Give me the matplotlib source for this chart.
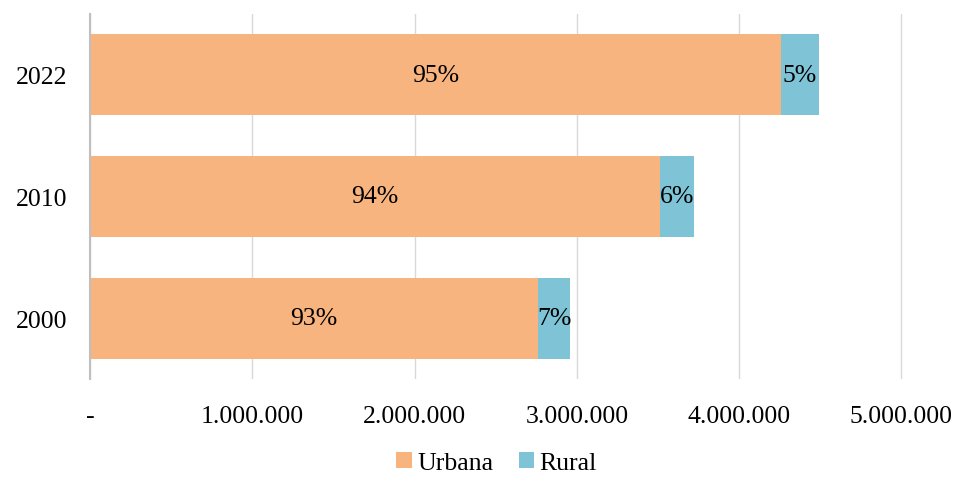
import matplotlib
matplotlib.use("Agg")
import matplotlib.pyplot as plt
from matplotlib.ticker import FuncFormatter

years = ["2000", "2010", "2022"]
urbana = [2760000, 3510000, 4260000]
rural = [200000, 210000, 230000]
urbana_pct = ["93%", "94%", "95%"]
rural_pct = ["7%", "6%", "5%"]
xticks = [0, 1000000, 2000000, 3000000, 4000000, 5000000]

c_urb = "#F8B47F"
c_rur = "#7FC4D6"
fs = 18.5
plt.rcParams['font.family'] = ['Liberation Serif', 'DejaVu Serif']

fig = plt.figure(figsize=(9.57, 4.81), dpi=100)
ax = fig.add_axes([90/957, 1-380/481, (903-90)/957, 365/481])

y = list(range(len(years)))
b1 = ax.barh(y, urbana, height=0.667, color=c_urb, label="Urbana", zorder=2)
b2 = ax.barh(y, rural, left=urbana, height=0.667, color=c_rur, label="Rural", zorder=2)

for i in y:
    ax.text(urbana[i] / 2, i, urbana_pct[i], ha="center", va="center", fontsize=fs, color="black", zorder=3)
    ax.text(urbana[i] + rural[i] / 2, i, rural_pct[i], ha="center", va="center", fontsize=fs, color="black", zorder=3)

ax.set_xlim(0, 5010000)
ax.set_ylim(-0.5, 2.5)
ax.set_xticks(xticks)
def fmt(v, pos):
    if v == 0:
        return "-"
    return f"{int(v):,}".replace(",", ".")
ax.xaxis.set_major_formatter(FuncFormatter(fmt))
ax.set_yticks(y)
ax.set_yticklabels(years)
ax.tick_params(axis="both", length=0, labelsize=fs)
ax.tick_params(axis="x", pad=19)
ax.tick_params(axis="y", pad=16)
ax.grid(axis="x", color="#D9D9D9", linewidth=1, zorder=0)
for s in ["top", "right", "bottom"]:
    ax.spines[s].set_visible(False)
ax.spines["left"].set_color("#BFBFBF")
ax.spines["left"].set_linewidth(1.5)

ax.legend(handles=[b1, b2], loc="upper center", bbox_to_anchor=(0.5, -0.15),
          ncol=2, frameon=False, fontsize=fs, handlelength=0.6, handleheight=0.6,
          handletextpad=0.2, columnspacing=1.0, borderpad=0.2)

fig.savefig("out.png", dpi=100)
